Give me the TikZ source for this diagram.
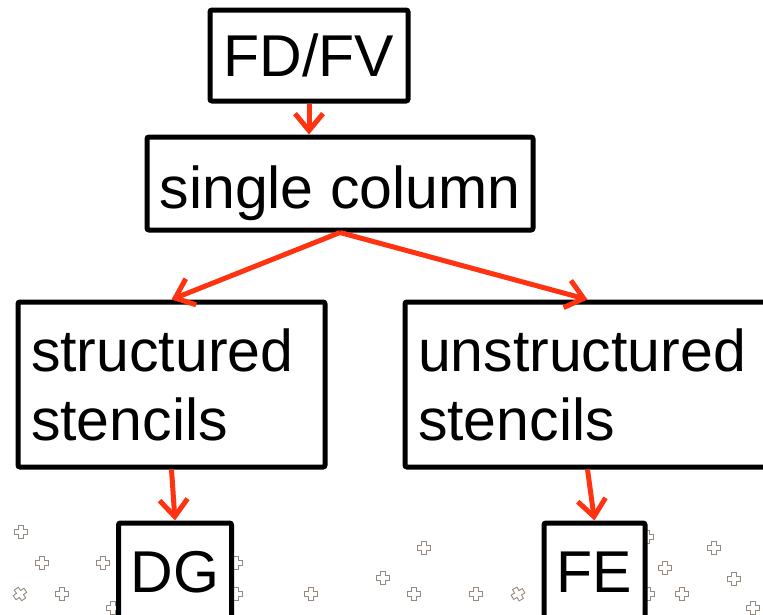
\documentclass[tikz,border=0pt]{standalone}
\usepackage{fontspec}
\setmainfont{Liberation Sans}
\usetikzlibrary{arrows.meta}
\definecolor{linkred}{RGB}{255,51,17}
\definecolor{speckgrey}{RGB}{150,138,126}
\tikzset{
  speck/.pic={\draw[speckgrey, line width=0.9pt]
    (-2.5,-6.5) -- (2.5,-6.5) -- (2.5,-2.5) -- (6.5,-2.5) -- (6.5,2.5) -- (2.5,2.5) -- (2.5,6.5)
    -- (-2.5,6.5) -- (-2.5,2.5) -- (-6.5,2.5) -- (-6.5,-2.5) -- (-2.5,-2.5) -- cycle;}
}
\begin{document}
\begin{tikzpicture}[x=1pt, y=-1pt,
    every node/.style={font=\fontsize{59}{69}\selectfont},
    box/.style={draw, line width=5pt, rounded corners=2pt, fill=white, inner sep=0pt},
    link/.style={linkred, line width=5pt, -{Straight Barb[length=17pt, width=28pt]}}]
  \clip (0,0) rectangle (763,614);

  % scattered specks along the bottom
  \foreach \x/\y/\r in {21/532/0, 42/563/0, 103/563/0, 20/594/35, 62/594/0,
      113/608/0, 236/563/0, 236/594/0, 311/594/0, 424/548/0, 383/578/0,
      414/594/0, 476/594/0, 518/594/30, 647/537/0, 665/568/0, 714/548/0,
      734/579/0, 682/594/0, 753/608/0, 648/594/0}
    \pic[rotate=\r] at (\x,\y) {speck};

  \node (fdfv) [box, minimum width=198pt, minimum height=91pt] at (309,55.5) {FD/FV};
  \node (single) [box, minimum width=386pt, minimum height=93pt, text height=49pt, text depth=0pt]
    at (340,183.5) {single column};
  \node (struct) [box, minimum width=307pt, minimum height=165pt, text width=281pt, align=left]
    at (171.5,384.5) {structured\\stencils};
  \node (unstruct) [box, minimum width=365pt, minimum height=165pt, text width=339pt, align=left]
    at (587.5,384.5) {unstructured\\stencils};
  \node (dg) [box, minimum width=113pt, minimum height=98pt] at (175,572) {DG};
  \node (fe) [box, minimum width=101pt, minimum height=98pt] at (594.5,572) {FE};

  \draw[link] (fdfv.south) -- (fdfv.south |- single.north);
  \draw[link] (single.south) -- (struct.north);
  \draw[link] (single.south) -- (unstruct.north);
  \draw[link] (struct.south) -- (dg.north);
  \draw[link] (unstruct.south) -- (fe.north);
\end{tikzpicture}
\end{document}
